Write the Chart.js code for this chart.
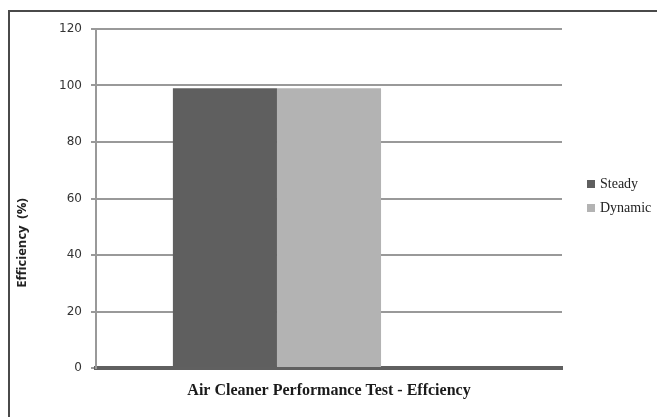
<!DOCTYPE html>
<html>
<head>
<meta charset="utf-8">
<script src="https://cdn.jsdelivr.net/npm/chart.js@4/dist/chart.umd.min.js"></script>
<style>
  body { margin: 0; background: #fff; }
  #wrap { position: relative; width: 657px; height: 417px; overflow: hidden; }
  #frame { position: absolute; left: 8px; top: 10px; width: 700px; height: 500px;
           border-top: 2px solid #4a4a4a; border-left: 2px solid #4a4a4a; }
  canvas { position: absolute; left: 0; top: 0; }
</style>
</head>
<body>
<div id="wrap">
  <div id="frame"></div>
  <canvas id="effChart" width="657" height="417"></canvas>
</div>
<script>
const categories = ['Air Cleaner Performance Test - Effciency'];
const steadyValues = [99];
const dynamicValues = [99];
const emptyValues = [null];
const yTicks = [0, 20, 40, 60, 80, 100, 120];
const yTitle = 'Efficiency  (%)';

// axis title + legend drawn on the canvas after the chart
const extrasPlugin = {
  id: 'extras',
  afterDraw(chart) {
    const ctx = chart.ctx;
    const area = chart.chartArea;
    ctx.save();

    ctx.translate(22, area.bottom - 125);
    ctx.rotate(-Math.PI / 2);
    ctx.font = 'bold 13px "Open Sans"';
    ctx.fillStyle = '#222';
    ctx.textAlign = 'center';
    ctx.textBaseline = 'middle';
    ctx.fillText(yTitle, 0, 0);
    ctx.restore();

    ctx.save();
    ctx.font = '14px "Liberation Serif"';
    ctx.textBaseline = 'middle';
    chart.data.datasets.slice(0, 2).forEach((ds, i) => {
      const y = 184 + i * 24;
      ctx.fillStyle = ds.backgroundColor;
      ctx.fillRect(587, y - 4, 8, 8);
      ctx.fillStyle = '#222';
      ctx.fillText(ds.label, 600, y);
    });
    ctx.restore();
  }
};

new Chart(document.getElementById('effChart').getContext('2d'), {
  type: 'bar',
  data: {
    labels: categories,
    datasets: [
      { label: 'Steady', data: steadyValues, backgroundColor: '#5f5f5f' },
      { label: 'Dynamic', data: dynamicValues, backgroundColor: '#b3b3b3' },
      { label: '', data: emptyValues, backgroundColor: 'rgba(0,0,0,0)' }
    ]
  },
  options: {
    responsive: false,
    animation: false,
    devicePixelRatio: 1,
    layout: { padding: { left: 0, top: 29, right: 95, bottom: 0 } },
    datasets: {
      bar: { categoryPercentage: 0.67, barPercentage: 1.0 }
    },
    plugins: {
      legend: { display: false },
      tooltip: { enabled: false }
    },
    scales: {
      x: {
        grid: { display: false, drawTicks: false },
        border: { display: true, color: '#606060', width: 4 },
        ticks: {
          color: '#1a1a1a',
          padding: 13,
          font: { family: '"Liberation Serif"', size: 16, weight: 'bold' }
        },
        afterFit(scale) { scale.height = 49; }
      },
      y: {
        min: 0,
        max: 120,
        afterBuildTicks(scale) { scale.ticks = yTicks.map(v => ({ value: v })); },
        grid: { color: '#999', lineWidth: 2, tickLength: 5 },
        border: { display: true, color: '#999', width: 2 },
        ticks: {
          color: '#333',
          padding: 9,
          font: { family: '"DejaVu Sans"', size: 12 }
        },
        afterFit(scale) { scale.width = 96; }
      }
    }
  },
  plugins: [extrasPlugin]
});
</script>
</body>
</html>
